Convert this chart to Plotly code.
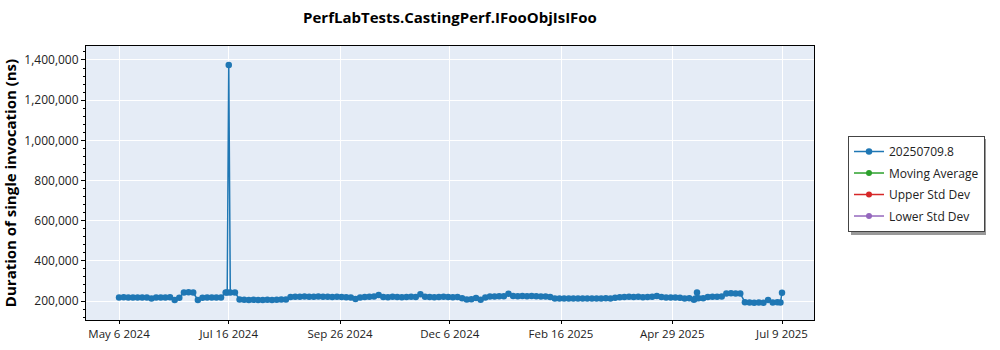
import pandas as pd
import plotly.graph_objects as go

# ---- data ----
start_date = "2024-05-06"
step_days = 3
values_k = [
    218, 219, 218, 218, 217, 218, 217, 212, 218, 218,
    217, 219, 205, 216, 243, 244, 242, 205, 216, 217,
    217, 218, 218, 243, 243, 243, 208, 206, 205, 206,
    205, 205, 206, 205, 206, 207, 208, 220, 221, 221,
    222, 221, 221, 222, 221, 221, 220, 221, 220, 219,
    218, 210, 218, 220, 221, 222, 230, 220, 219, 221,
    220, 219, 220, 221, 220, 234, 221, 220, 219, 220,
    221, 220, 219, 220, 214, 208, 209, 215, 206, 218,
    222, 223, 224, 224, 236, 225, 224, 225, 224, 225,
    224, 223, 222, 220, 213, 212, 213, 212, 213, 212,
    213, 213, 212, 213, 213, 214, 213, 216, 219, 220,
    221, 220, 221, 219, 220, 221, 225, 220, 217, 218,
    218, 216, 213, 214, 206, 214, 214, 220, 221, 221,
    222, 238, 239, 238, 238, 194, 193, 192, 193, 192,
    205, 193, 194, 241,
]
# isolated runs between the regular samples
extra_dates = ["2024-07-15", "2024-07-16", "2025-05-14", "2025-05-15", "2025-07-08"]
extra_values_k = [243, 1375, 212, 243, 193]

tick_dates = ["2024-05-06", "2024-07-16", "2024-09-26", "2024-12-06",
              "2025-02-16", "2025-04-29", "2025-07-09"]
tick_labels = ["May 6 2024", "Jul 16 2024", "Sep 26 2024", "Dec 6 2024",
               "Feb 16 2025", "Apr 29 2025", "Jul 9 2025"]
series_names = ["20250709.8", "Moving Average", "Upper Std Dev", "Lower Std Dev"]
series_colors = ["#1f77b4", "#2ca02c", "#d62728", "#9467bd"]

base = pd.DataFrame({
    "date": pd.date_range(start_date, periods=len(values_k), freq=f"{step_days}D"),
    "value": [v * 1000 for v in values_k],
})
extra = pd.DataFrame({
    "date": pd.to_datetime(extra_dates),
    "value": [v * 1000 for v in extra_values_k],
})
df = pd.concat([base, extra]).sort_values("date", kind="stable").reset_index(drop=True)

fig = go.Figure()
fig.add_trace(go.Scatter(
    x=df["date"], y=df["value"], mode="lines+markers", name=series_names[0],
    line=dict(color=series_colors[0], width=1.5),
    marker=dict(color=series_colors[0], size=6.5),
    legendgroup="g0",
))
for i, (name, color) in enumerate(zip(series_names[1:], series_colors[1:]), start=1):
    fig.add_trace(go.Scatter(
        x=[None], y=[None], mode="lines+markers", name=name,
        line=dict(color=color, width=1.5),
        marker=dict(color=color, size=6),
        legendgroup=f"g{i}",
    ))

FONT = "Open Sans"
fig.update_layout(
    width=1000, height=350,
    margin=dict(l=86, r=186, t=46, b=30, autoexpand=False),
    paper_bgcolor="white",
    plot_bgcolor="#E5ECF6",
    font=dict(family=FONT, size=12, color="#222"),
    title=dict(text="<b>PerfLabTests.CastingPerf.IFooObjIsIFoo</b>",
               x=0.45, xanchor="center", y=0.948, yanchor="middle",
               font=dict(size=15, color="black")),
    legend=dict(x=1.0467, xanchor="left", y=0.6715, yanchor="top",
                bgcolor="white", bordercolor="#444", borderwidth=1,
                tracegroupgap=2.5, itemwidth=30,
                font=dict(size=12, color="#222")),
    showlegend=True,
)
fig.update_xaxes(
    range=["2024-04-14 15:00", "2025-07-29 17:00"],
    tickvals=tick_dates, ticktext=tick_labels,
    tickfont=dict(size=11.5),
    showgrid=True, gridcolor="white", gridwidth=1,
    showline=True, linecolor="black", linewidth=1, mirror=True,
    ticks="outside", ticklen=3, tickcolor="black",
    zeroline=False,
)
fig.update_yaxes(
    range=[105500, 1469600],
    dtick=200000, tick0=0, tickformat=",",
    showgrid=True, gridcolor="white", gridwidth=1,
    showline=True, linecolor="black", linewidth=1, mirror=True,
    ticks="outside", ticklen=4, tickcolor="black",
    minor=dict(dtick=40000, ticks="outside", ticklen=2, tickcolor="black", showgrid=False),
    zeroline=False,
    title=dict(text="<b>Duration of single invocation (ns)</b>", standoff=6,
               font=dict(size=15, color="black")),
)
# legend shadow
fig.add_shape(type="rect", xref="paper", yref="paper",
              x0=(851 - 86) / 728, x1=(986 - 86) / 728,
              y0=(320 - 235) / 274, y1=(320 - 139) / 274,
              fillcolor="#999", line=dict(width=0), layer="below")

fig.write_html("out.html")
